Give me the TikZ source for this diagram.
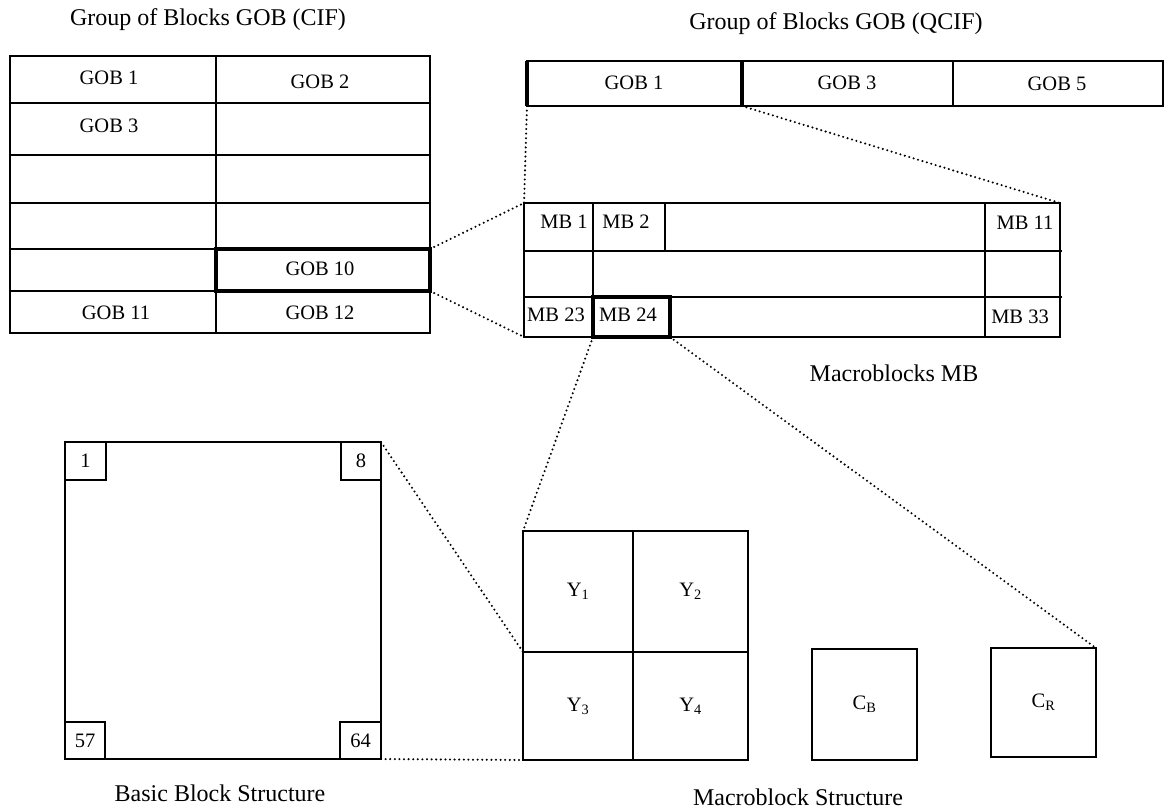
\documentclass[tikz,border=0pt]{standalone}
\usepackage{fontspec}
\setmainfont{Liberation Serif}
\begin{document}
\begin{tikzpicture}[x=1pt,y=-1pt,
  ln/.style={line width=1.6pt},
  bx/.style={draw, line width=1.6pt, rectangle, inner sep=0pt, outer sep=0pt, anchor=north west},
  heavy/.style={line width=3.2pt},
  dots/.style={line width=2.3pt, dash pattern=on 0pt off 4.6pt, line cap=round},
  lab/.style={font=\fontsize{20.5}{24}\selectfont, inner sep=0pt},
  capt/.style={font=\fontsize{24}{28}\selectfont, inner sep=0pt},
]
\useasboundingbox (0,0) rectangle (1166,809);

% ---------- titles ----------
\node[capt] (tcif) at (208,20) {Group of Blocks GOB (CIF)};
\node[capt] (tqcif) at (836,24) {Group of Blocks GOB (QCIF)};

% ---------- CIF table ----------
\node[bx, minimum width=420pt, minimum height=277pt] (cif) at (10,56) {};
\draw[ln] (216,56) -- (216,333);
\foreach \yy in {103,155,203,249,291} \draw[ln] (10,\yy) -- (430,\yy);
\node[bx, heavy, minimum width=214pt, minimum height=42pt] (gob10) at (216,249) {};
\node[lab] (c1) at (109,78) {GOB 1};
\node[lab] (c2) at (320,82) {GOB 2};
\node[lab] (c3) at (109,126) {GOB 3};
\node[lab] (c10) at (320,269) {GOB 10};
\node[lab] (c11) at (116,313) {GOB 11};
\node[lab] (c12) at (320,313) {GOB 12};

% ---------- QCIF row ----------
\node[bx, minimum width=636pt, minimum height=45pt] (qcif) at (527,61) {};
\draw[ln] (953,61) -- (953,106);
\node[bx, minimum width=215pt, minimum height=45pt] (qgob1) at (527,61) {};
\draw[heavy] (qgob1.north west) -- (qgob1.south west);
\draw[heavy] (qgob1.north east) -- (qgob1.south east);
\node[lab] (q1) at (634,83) {GOB 1};
\node[lab] (q3) at (847,83) {GOB 3};
\node[lab] (q5) at (1057,84) {GOB 5};

% ---------- Macroblock grid ----------
\node[bx, minimum width=536pt, minimum height=134pt] (mbgrid) at (524,203) {};
\draw[ln] (524,251) -- (1062,251);
\draw[ln] (524,297) -- (1062,297);
\draw[ln] (593,203) -- (593,337);
\draw[ln] (985,203) -- (985,337);
\draw[ln] (665,203) -- (665,251);
\node[bx, heavy, minimum width=77pt, minimum height=40pt] (mb24) at (593,297) {};
\node[lab] (m1) at (564,222) {MB 1};
\node[lab] (m2) at (626,222) {MB 2};
\node[lab] (m11) at (1025,223) {MB 11};
\node[lab] (m23) at (556,315) {MB 23};
\node[lab] (m24) at (628,315) {MB 24};
\node[lab] (m33) at (1020,317) {MB 33};
\node[capt] (tmb) at (894,373) {Macroblocks MB};

% ---------- Basic block ----------
\node[bx, minimum width=316pt, minimum height=317pt] (bb) at (65,442) {};
\node[bx, lab, minimum width=41pt, minimum height=38pt] (b1) at (65,442) {1};
\node[bx, lab, minimum width=40pt, minimum height=38pt] (b8) at (341,442) {8};
\node[bx, lab, minimum width=40pt, minimum height=37pt] (b57) at (65,722) {57};
\node[bx, lab, minimum width=41pt, minimum height=37pt] (b64) at (340,722) {64};
\node[capt] (tbb) at (220,793) {Basic Block Structure};

% ---------- Macroblock structure ----------
\node[bx, lab, minimum width=110pt, minimum height=121pt] (y1) at (523,531) {Y\textsubscript{1}};
\node[bx, lab, minimum width=115pt, minimum height=121pt] (y2) at (633,531) {Y\textsubscript{2}};
\node[bx, lab, minimum width=115pt, minimum height=108pt] (y4) at (633,652) {Y\textsubscript{4}};
\node[bx, lab, line width=2.6pt, minimum width=110pt, minimum height=108pt] (y3) at (523,652) {Y\textsubscript{3}};
\node[bx, lab, minimum width=105pt, minimum height=111pt] (cb) at (812,649) {C\textsubscript{B}};
\node[bx, lab, minimum width=105pt, minimum height=109pt] (cr) at (991,648) {C\textsubscript{R}};
\node[capt] (tms) at (798,797) {Macroblock Structure};

% ---------- dotted zoom lines ----------
\draw[dots] (qgob1.south west) -- (mbgrid.north west);
\draw[dots] (qgob1.south east) -- (mbgrid.north east);
\draw[dots] (gob10.north east) -- (mbgrid.north west);
\draw[dots] (gob10.south east) -- (mbgrid.south west);
\draw[dots] (mb24.south west) -- (y1.north west);
\draw[dots] (mb24.south east) -- (cr.north east);
\draw[dots] (bb.north east) -- (y3.north west);
\draw[dots] (bb.south east) -- (y3.south west);
\end{tikzpicture}
\end{document}
